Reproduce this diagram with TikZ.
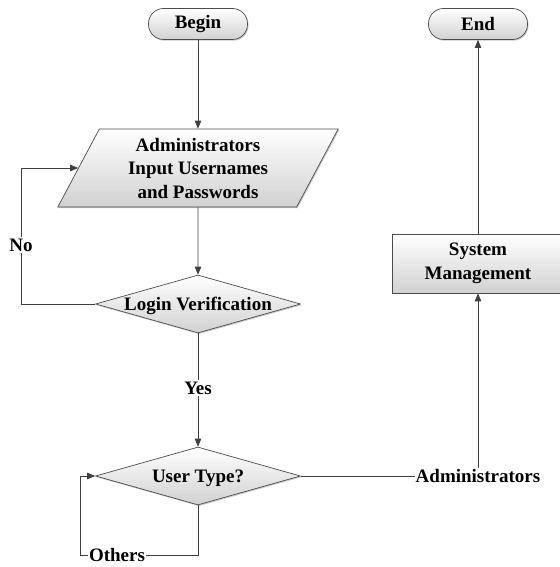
\documentclass[tikz,border=0pt]{standalone}
\usepackage{fontspec}
\setmainfont{Liberation Serif}
\usetikzlibrary{shapes.geometric,arrows.meta,shadows}
\begin{document}
\begin{tikzpicture}[x=1pt,y=-1pt,
  every node/.style={font=\bfseries\fontsize{19}{23.5}\selectfont, text=black},
  shapebase/.style={draw=black!70, line width=0.7pt, top color=white, bottom color=black!18,
    drop shadow={shadow xshift=1pt, shadow yshift=-1.2pt, fill=black!35, opacity=0.6}},
  terminal/.style={shapebase, rectangle, rounded corners=15pt, minimum width=99pt, minimum height=31pt, inner sep=0pt},
  iobox/.style={shapebase, trapezium, trapezium left angle=64, trapezium right angle=116,
    trapezium stretches=true, minimum width=281pt, minimum height=78pt, inner sep=0pt, align=center},
  decision/.style={shapebase, diamond, aspect=3.5, minimum width=205pt, minimum height=58pt,
    inner sep=0pt, text height=12pt, text depth=0pt},
  procbox/.style={shapebase, rectangle, minimum width=172pt, minimum height=59pt, inner sep=0pt, align=center},
  flow/.style={draw=black!75, line width=0.8pt},
  arr/.style={flow, -{Triangle[length=8pt,width=6.5pt]}},
  lbl/.style={inner sep=1pt}
]
\useasboundingbox (0,0) rectangle (559,567);

% nodes of the flow
\node[terminal] (begin) at (198,24) {Begin};
\node[iobox] (inp) at (198,168) {Administrators\\Input Usernames\\and Passwords};
\node[decision] (login) at (198,304) {Login Verification};
\node[decision] (ut) at (198,476) {User Type?};
\node[procbox] (sys) at (478,263.5) {System\\Management};
\node[terminal] (end) at (478,24) {End};

% branch labels
\node[lbl] (yes) at (198,388) {Yes};
\node[lbl] (no) at (21,245) {No};
\node[lbl] (oth) at (117,555) {Others};
\node[lbl] (adm) at (478,476) {Administrators};
\coordinate (oc) at (80,476);

% connectors
\draw[arr] (begin) -- (inp);
\draw[arr] (inp.south) -- (login.north);
\draw[arr] (login) -- (yes) -- (ut);
\draw[flow] (login.west) -| (no);
\draw[arr] (no) |- (inp);
\draw[flow] (ut.east) -- (adm);
\draw[arr] (adm) -- (sys);
\draw[arr] (sys) -- (end);
\draw[flow] (ut.south) |- (oth);
\draw[arr] (oth) -| (oc) -- (ut.west);
\end{tikzpicture}
\end{document}
